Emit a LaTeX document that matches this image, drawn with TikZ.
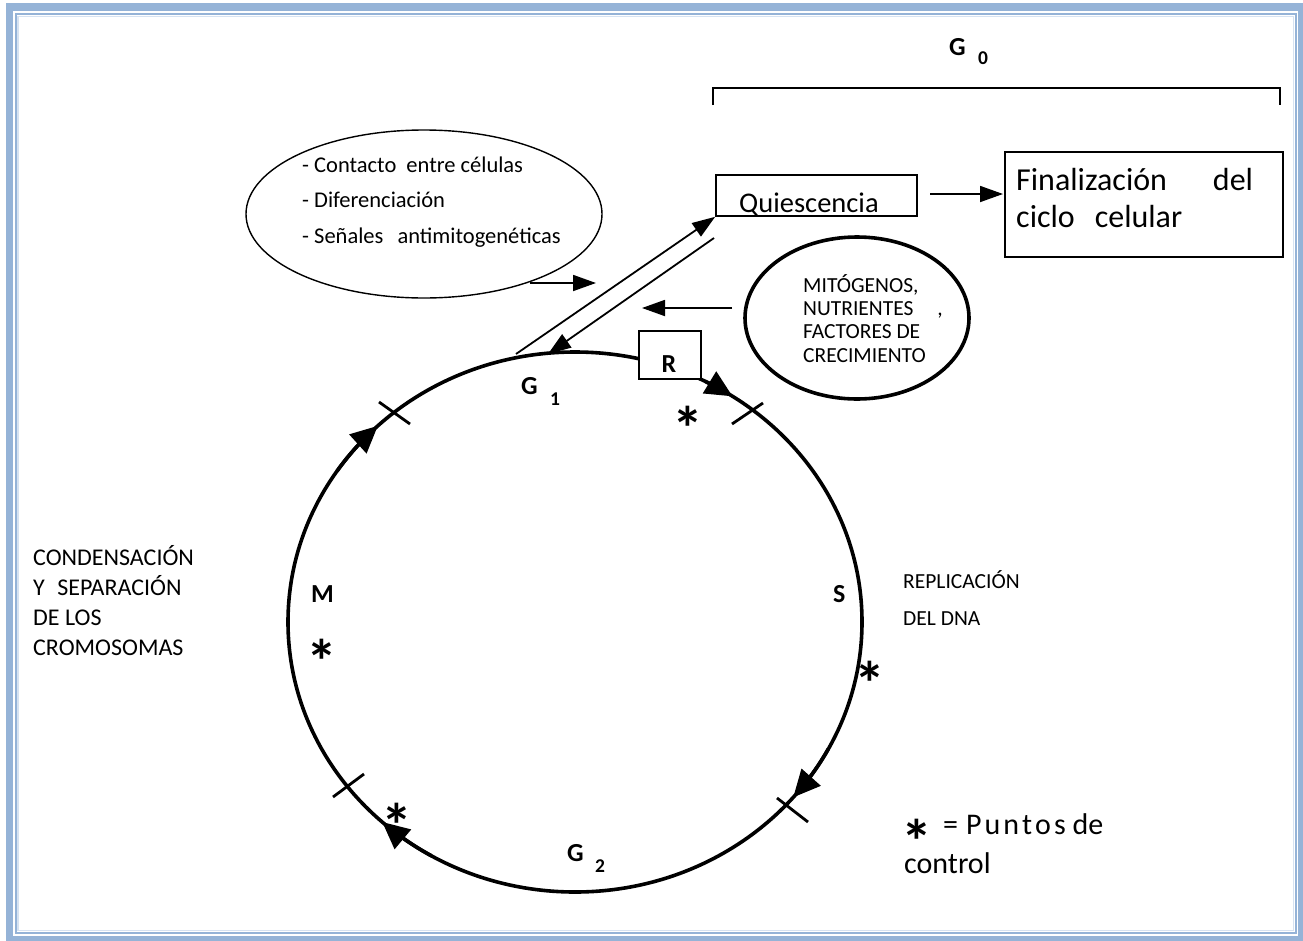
\documentclass[tikz,border=0pt]{standalone}
\usepackage{fontspec}
\setmainfont{Carlito}
\usetikzlibrary{arrows.meta,shapes.geometric}
\definecolor{frameblue}{RGB}{149,179,215}
\definecolor{framelight}{RGB}{214,226,241}
% a checkpoint star whose box hugs the glyph, so that the node centre is the star centre
\newcommand{\ckstar}{\raisebox{-0.39em}[0.36em][0pt]{*}}
\begin{document}
\begin{tikzpicture}[x=1pt,y=-1pt,
  cyc/.style={line width=3.6pt},
  cyctip/.style={line width=3.6pt,-{Triangle[length=27pt,width=25pt]}},
  conn/.style={line width=1.8pt,-{Triangle[length=23pt,width=16pt]}},
  plain/.style={line width=1.8pt},
  tick/.style={line width=2.8pt},
  boxnode/.style={draw,line width=1.6pt,fill=white,inner sep=0pt},
  lbl/.style={inner sep=0pt,anchor=base west},
  bigtxt/.style={lbl,font=\fontsize{28.5}{28.5}\selectfont},
  fintxt/.style={lbl,font=\fontsize{32}{32}\selectfont},
  legtxt/.style={lbl,font=\fontsize{30}{30}\selectfont},
  midtxt/.style={lbl,font=\fontsize{24}{24}\selectfont},
  sidetxt/.style={lbl,font=\fontsize{21.5}{21.5}\selectfont},
  smalltxt/.style={lbl,font=\fontsize{22.5}{22.5}\selectfont},
  mittxt/.style={lbl,font=\fontsize{21.5}{21.5}\selectfont},
  phase/.style={lbl,font=\fontsize{26}{26}\bfseries\selectfont},
  phasesub/.style={lbl,font=\fontsize{19.5}{19.5}\bfseries\selectfont},
  aster/.style={inner sep=0pt,anchor=center,font=\fontsize{62}{62}\bfseries\selectfont}
]
\useasboundingbox (0,0) rectangle (1303,940);

% page frame
\draw[frameblue,line width=7.5pt] (9.5,7) rectangle (1301.5,939.5);
\draw[frameblue,line width=2pt] (15.8,13.8) rectangle (1296,933);
\draw[framelight,line width=1.3pt] (18,16.3) rectangle (1293.3,930.6);

% G0 bracket
\node[phase] (g0) at (949,55) {G};
\node[phasesub] (g0s) at (978,64) {0};
\draw[plain] (713,105) -- (713,88) -- (1280,88) -- (1280,105);

% quiescence and exit
\node[boxnode,minimum width=201pt,minimum height=41pt] (q) at (816.5,195.5) {};
\node[bigtxt] (qtxt) at (739,212) {Quiescencia};
\node[boxnode,minimum width=278pt,minimum height=105pt] (fin) at (1144,204.5) {};
\node[fintxt] (fin1) at (1016,190) {Finalización\hspace{46pt}del};
\node[fintxt] (fin2) at (1016,227) {ciclo\hspace{20pt}celular};
\coordinate (qf1) at (930,194);
\coordinate (qf2) at (1003,194);
\draw[conn] (qf1) -- (qf2);

% inhibitory signals
\node[draw,ellipse,line width=1.4pt,minimum width=356pt,minimum height=168pt] (inh) at (424,214) {};
\node[smalltxt] (inh1) at (302,172) {- Contacto\hspace{5pt} entre células};
\node[smalltxt] (inh2) at (302,207) {- Diferenciación};
\node[smalltxt] (inh3) at (302,243) {- Señales\hspace{9pt} antimitogenéticas};
\coordinate (ia1) at (530,283);
\coordinate (ia2) at (596,283);
\draw[conn] (ia1) -- (ia2);

% mitogenic signals
\node[draw,ellipse,line width=3.6pt,minimum width=224pt,minimum height=162pt] (mit) at (857,318) {};
\node[mittxt] (mit1) at (803,292) {MITÓGENOS,};
\node[mittxt] (mit2) at (803,315) {NUTRIENTES\hspace{24pt},};
\node[mittxt] (mit3) at (803,338) {FACTORES DE};
\node[mittxt] (mit4) at (803,362) {CRECIMIENTO};
\coordinate (ma1) at (732,308);
\coordinate (ma2) at (642,308);
\draw[conn] (ma1) -- (ma2);

% the cell cycle
\node[draw,ellipse,cyc,inner sep=0pt,minimum width=574pt,minimum height=540pt] (cc) at (575,622) {};

% exit to and return from quiescence
\coordinate (ex1) at (516,354);
\draw[conn] (ex1) -- (q.south west);
\coordinate (re1) at (714,238);
\coordinate (re2) at (548,354);
\draw[conn] (re1) -- (re2);

% restriction point
\node[boxnode,minimum width=62pt,minimum height=48pt] (r) at (670,355) {};
\node[phase,anchor=base] (rtxt) at (669,372) {R};

% direction arrows on the cycle
\draw[cyctip] plot[domain=297:303.3,samples=8] ({575+287*cos(\x)},{622+270*sin(\x)});
\draw[cyctip] plot[domain=28:40.5,samples=12] ({575+287*cos(\x)},{622+270*sin(\x)});
\draw[cyctip] plot[domain=120:132.2,samples=12] ({575+287*cos(\x)},{622+270*sin(\x)});
\draw[cyctip] plot[domain=214:226.6,samples=12] ({575+287*cos(\x)},{622+270*sin(\x)});

% phase boundaries
\draw[tick] (379,402) -- (410,424);
\draw[tick] (732,424) -- (763,403);
\draw[tick] (777,798) -- (808,822);
\draw[tick] (333,797) -- (364,774);

% phase names
\node[phase] (g1) at (521,394) {G};
\node[phasesub] (g1s) at (550,405) {1};
\node[phase] (g2) at (567,861) {G};
\node[phasesub] (g2s) at (595,872) {2};
\node[phase] (m) at (311,602) {M};
\node[phase] (s) at (833,602) {S};

% checkpoints
\node[aster] (k1) at (688,415) {\ckstar};
\node[aster] (k2) at (322,648) {\ckstar};
\node[aster] (k3) at (870,670) {\ckstar};
\node[aster] (k4) at (397,812) {\ckstar};

% side descriptions
\node[midtxt] (c1) at (33,565) {CONDENSACIÓN};
\node[midtxt] (c2) at (33,595) {Y\hspace{7pt} SEPARACIÓN};
\node[midtxt] (c3) at (33,625) {DE LOS};
\node[midtxt] (c4) at (33,655) {CROMOSOMAS};
\node[sidetxt] (d1) at (903,588) {REPLICACIÓN};
\node[sidetxt] (d2) at (903,625) {DEL DNA};

% legend
\node[aster] (k5) at (917,828) {\ckstar};
\node[legtxt] (leg1) at (943,834) {=\hspace{8pt}P\kern3pt u\kern3pt n\kern3pt t\kern3pt o\kern3pt s de};
\node[legtxt] (leg2) at (904,873) {control};
\end{tikzpicture}
\end{document}
